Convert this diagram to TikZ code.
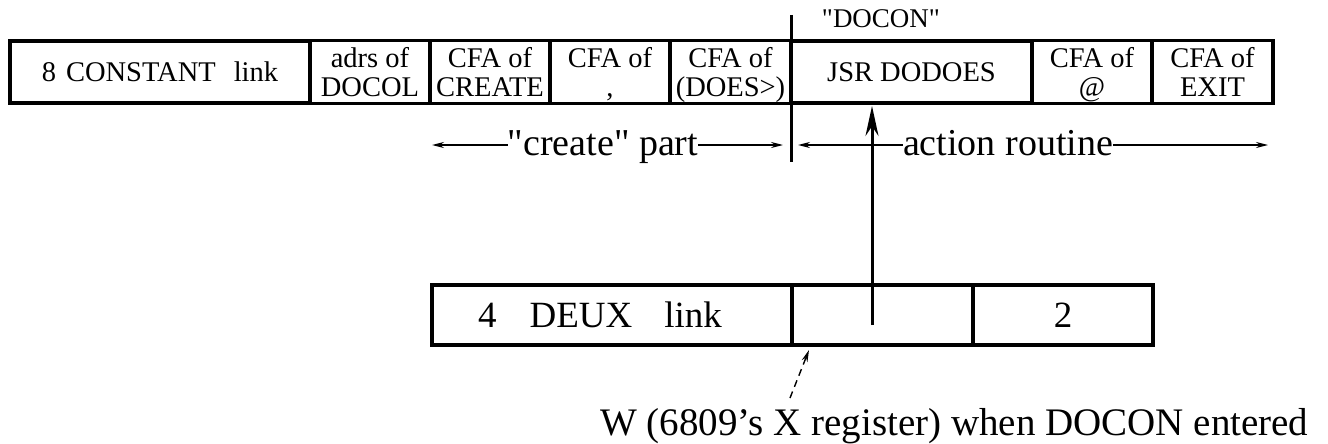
\documentclass[tikz,border=0pt]{standalone}
\usepackage{fontspec}
\setmainfont{Liberation Serif}[Ligatures=TeXOff]
\usetikzlibrary{arrows.meta}
\newcommand\twoln[2]{\rule[-3pt]{0pt}{30pt}#1\\#2\rule[-7pt]{0pt}{1pt}}
\begin{document}
\begin{tikzpicture}[x=1pt,y=-1pt,
  cell/.style={draw, line width=3.2pt, inner sep=0pt, outer sep=0pt, align=center,
    font=\fontsize{28.5}{29}\selectfont},
  topcell/.style={cell, minimum height=62pt},
  botcell/.style={cell, minimum height=60pt, font=\fontsize{37}{38}\selectfont},
  lab/.style={inner sep=0pt, anchor=base, font=\fontsize{38}{40}\selectfont},
  dimarr/.style={line width=1.4pt, -{Stealth[length=12pt,width=6pt]}},
  bigarr/.style={line width=3pt, -{Stealth[length=30pt,width=13pt]}},
  marker/.style={line width=3pt},
  wptr/.style={line width=1.4pt, dash pattern=on 7pt off 5pt, -{Stealth[length=12pt,width=6pt]}}
]
\useasboundingbox (0,0) rectangle (1328,444);

% top row
\node[topcell, minimum width=300pt] (c1) at (160,72) {8\hspace{10pt}CONSTANT\hspace{18pt}link};
\node[topcell, minimum width=120pt] (c2) at (370,72) {\twoln{adrs of}{DOCOL}};
\node[topcell, minimum width=120pt] (c3) at (490,72) {\twoln{CFA of}{CREATE}};
\node[topcell, minimum width=120pt] (c4) at (610,72) {\twoln{CFA of}{,}};
\node[topcell, minimum width=121pt] (c5) at (730.5,72) {\twoln{CFA of}{(DOES>)}};
\node[topcell, minimum width=241pt] (c6) at (911.5,72) {JSR DODOES};
\node[topcell, minimum width=120pt] (c7) at (1092,72) {\twoln{CFA of}{@}};
\node[topcell, minimum width=121pt] (c8) at (1212.5,72) {\twoln{CFA of}{EXIT}};

\node[inner sep=0pt, anchor=base, font=\fontsize{27}{29}\selectfont] (docon) at (881,28) {"DOCON"};

% divider marker
\coordinate (mtop) at (791,15);
\coordinate (mbot) at (791,162);
\draw[marker] (mtop) -- (mbot);

% span labels
\node[lab] (create) at (603,155) {"create" part};
\node[lab] (action) at (1008,155) {action routine};
\coordinate (cl) at (432,145);
\coordinate (cr) at (783,145);
\coordinate (al) at (798,145);
\coordinate (ar) at (1268,145);
\draw[dimarr] (create.west |- cl) -- (cl);
\draw[dimarr] (create.east |- cr) -- (cr);
\draw[dimarr] (action.west |- al) -- (al);
\draw[dimarr] (action.east |- ar) -- (ar);

% bottom row
\node[botcell, minimum width=360pt] (d1) at (612,315) {4\hspace{33pt}DEUX\hspace{32pt}link\hspace{24pt}};
\node[botcell, minimum width=181pt] (d2) at (882.5,315) {};
\node[botcell, minimum width=180pt] (d3) at (1063,315) {2};

% pointer to JSR DODOES
\coordinate (src) at (872,325);
\draw[bigarr, shorten >=3pt] (src) -- (src |- c6.south);

% W pointer
\node[inner sep=0pt, anchor=base west, font=\fontsize{39}{41}\selectfont] (wnote) at (600,435)
  {W (6809’s X register) when DOCON entered};
\coordinate (wtail) at (790,398);
\coordinate (wtip) at (809,350);
\draw[wptr] (wtail) -- (wtip);
\end{tikzpicture}
\end{document}
